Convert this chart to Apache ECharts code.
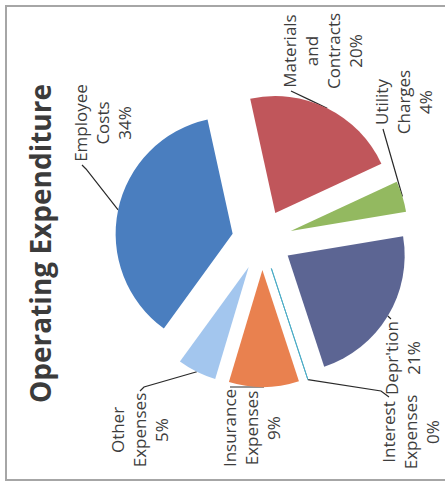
<!DOCTYPE html>
<html>
<head>
<meta charset="utf-8">
<script src="https://cdn.jsdelivr.net/npm/echarts@6/dist/echarts.min.js"></script>
<style>
  html, body { margin: 0; padding: 0; background: #fff; overflow: hidden; width: 445px; height: 487px; }
  /* The chart is laid out landscape and turned a quarter turn so it reads bottom-to-top */
  #chart {
    position: absolute; left: 0; top: 0;
    width: 487px; height: 445px;
    transform-origin: 0 0;
    transform: translate(0, 487px) rotate(-90deg);
  }
</style>
</head>
<body>
<div id="chart"></div>
<script>
// Operating expenditure breakdown (per cent of total)
const categories = [
  'Employee\nCosts',
  'Materials\nand\nContracts',
  'Utility\nCharges',
  "Depr'tion",
  'Interest\nExpenses',
  'Insurance\nExpenses',
  'Other\nExpenses'
];
const shares = [34, 20, 4, 21, 0, 9, 5];
const sliceColors = ['#4a7ebf', '#c0565b', '#93b960', '#5c6593', '#4bacc6', '#e9814f', '#a3c6ee'];

// Label placement in chart space: block centre and the end of its leader line
const labelSpots = [
  { at: [364, 102], knee: [318, 86], tail: [322, 82] },
  { at: [436, 322], knee: null,      tail: [396, 291] },
  { at: [385, 403], knee: null,      tail: [358, 383] },
  { at: [129, 402], knee: null,      tail: [168, 391] },
  { at: [55, 410],  knee: [96, 381], tail: [90, 389] },
  { at: [59, 251],  knee: null,      tail: [100, 230] },
  { at: [57, 139],  knee: [100, 144], tail: [96, 140] }
];

const pieCenter = [247, 262];
const pieRadius = 117;
const startAngle = 144;
const explode = 30;

const chart = echarts.init(document.getElementById('chart'), null, { renderer: 'svg' });

const labelStyle = {
  show: true,
  position: 'outside',
  formatter: '{b}\n{c}%',
  fontFamily: 'Open Sans',
  fontSize: 17,
  lineHeight: 22,
  color: '#3d3d3d',
  align: 'center'
};

// Every slice is pulled out along its own bisector: one pie layer per slice,
// each drawing only its own sector and label.
const total = shares.reduce((a, b) => a + b, 0);
let cumulative = 0;
const series = shares.map((share, i) => {
  const midDeg = startAngle - (cumulative + share / 2) / total * 360;
  cumulative += share;
  const rad = midDeg * Math.PI / 180;
  const center = [pieCenter[0] + Math.cos(rad) * explode, pieCenter[1] - Math.sin(rad) * explode];

  const data = categories.map((name, j) => {
    if (j !== i) {
      return {
        name: name, value: shares[j],
        itemStyle: { color: 'rgba(0,0,0,0)' },
        label: { show: false }, labelLine: { show: false }
      };
    }
    const item = { name: name, value: shares[j], itemStyle: { color: sliceColors[j] } };
    if (shares[j] === 0) {
      item.itemStyle.borderColor = sliceColors[j];
      item.itemStyle.borderWidth = 1;
    }
    return item;
  });

  return {
    type: 'pie',
    silent: true,
    center: center,
    radius: pieRadius,
    startAngle: startAngle,
    clockwise: true,
    avoidLabelOverlap: false,
    emphasis: { disabled: true },
    label: labelStyle,
    labelLine: { show: true, lineStyle: { color: '#2a2a2a', width: 1.2 } },
    labelLayout: function (p) {
      if (p.dataIndex !== i) return {};
      const spot = labelSpots[p.dataIndex];
      const lay = chart.getModel().getSeriesByIndex(p.seriesIndex).getData().getItemLayout(p.dataIndex);
      const mid = (lay.startAngle + lay.endAngle) / 2;
      const start = [lay.cx + lay.r * Math.cos(mid), lay.cy + lay.r * Math.sin(mid)];
      const knee = spot.knee || [(start[0] + spot.tail[0]) / 2, (start[1] + spot.tail[1]) / 2];
      return {
        x: spot.at[0],
        y: spot.at[1],
        align: 'center',
        verticalAlign: 'middle',
        labelLinePoints: [start, knee, spot.tail]
      };
    },
    data: data
  };
});

chart.setOption({
  animation: false,
  backgroundColor: '#ffffff',
  title: {
    text: 'Operating Expenditure',
    left: 'center',
    top: 21,
    textStyle: { fontFamily: 'Open Sans', fontSize: 28, fontWeight: 'bold', color: '#3b3b3b' }
  },
  // Frame on three sides; the fourth runs off the page
  graphic: [{
    type: 'polyline',
    shape: { points: [[7, 470], [7, 6], [481, 6], [481, 470]] },
    style: { fill: 'none', stroke: '#a6a6a6', lineWidth: 2 },
    silent: true
  }],
  series: series
});
</script>
</body>
</html>
